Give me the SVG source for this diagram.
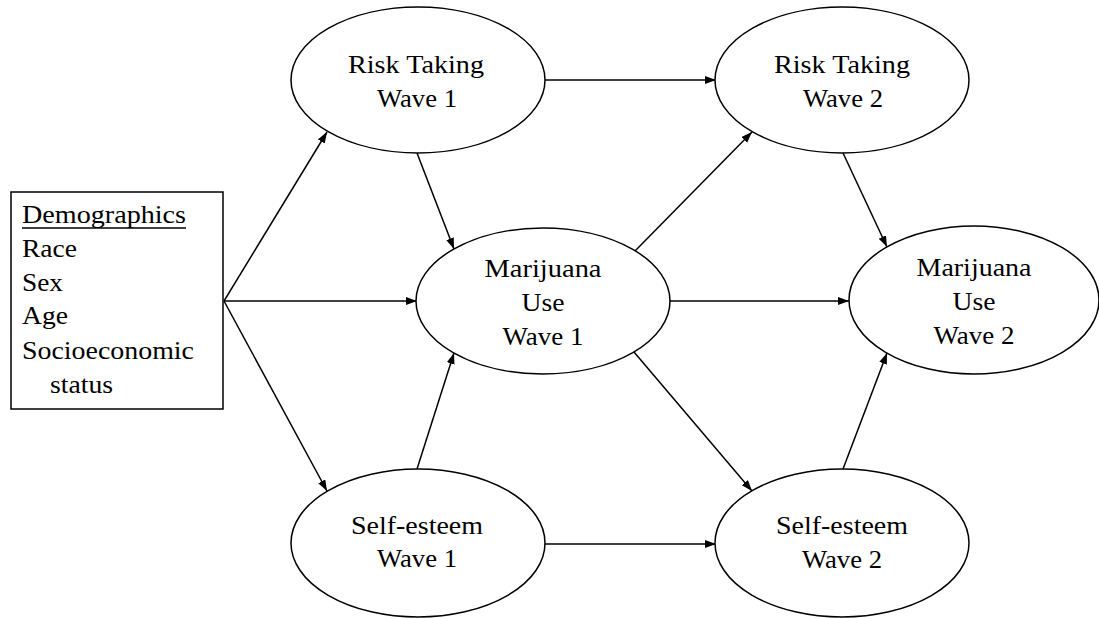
<svg xmlns="http://www.w3.org/2000/svg" width="1099" height="618" viewBox="0 0 1099 618">
<style>
.node{fill:#fff;stroke:#000;stroke-width:1.5}
.t{font-size:25px;fill:#000}
.c{text-anchor:middle}
.edge{stroke:#000;stroke-width:1.5;fill:none;marker-end:url(#ah)}
</style>
<defs>
<marker id="ah" markerUnits="userSpaceOnUse" markerWidth="12" markerHeight="9" refX="11" refY="4" orient="auto">
<path d="M0,0 L11,4 L0,8 z" fill="#000"/>
</marker>
</defs>
<rect width="1099" height="618" fill="#fff"/>
<g id="connectors">
<line class="edge" x1="224" y1="301" x2="327" y2="132"/>
<line class="edge" x1="224" y1="301" x2="417" y2="301"/>
<line class="edge" x1="224" y1="301" x2="327" y2="491"/>
<line class="edge" x1="417" y1="153" x2="454" y2="249"/>
<line class="edge" x1="417" y1="469" x2="454" y2="353"/>
<line class="edge" x1="545" y1="80" x2="716" y2="80"/>
<line class="edge" x1="545" y1="544" x2="716" y2="544"/>
<line class="edge" x1="635" y1="251" x2="752" y2="132"/>
<line class="edge" x1="670" y1="301" x2="849" y2="301"/>
<line class="edge" x1="634" y1="352" x2="752" y2="491"/>
<line class="edge" x1="843" y1="153" x2="887" y2="247"/>
<line class="edge" x1="843" y1="469" x2="887" y2="353"/>
</g>
<g font-family="Liberation Serif, Times New Roman, Times, serif">
<g id="demographics">
<rect class="node" x="11" y="192" width="212" height="217"/>
<text class="t" x="22" y="223" textLength="164" lengthAdjust="spacingAndGlyphs">Demographics</text>
<line x1="22" y1="228" x2="186" y2="228" stroke="#000" stroke-width="1.3"/>
<text class="t" x="22" y="257" textLength="55" lengthAdjust="spacingAndGlyphs">Race</text>
<text class="t" x="22" y="291" textLength="41" lengthAdjust="spacingAndGlyphs">Sex</text>
<text class="t" x="22" y="324" textLength="46" lengthAdjust="spacingAndGlyphs">Age</text>
<text class="t" x="22" y="359" textLength="172" lengthAdjust="spacingAndGlyphs">Socioeconomic</text>
<text class="t" x="50" y="393" textLength="63" lengthAdjust="spacingAndGlyphs">status</text>
</g>
<g id="risk1">
<ellipse class="node" cx="418" cy="80" rx="127" ry="73"/>
<text class="t c" x="416" y="73" textLength="136" lengthAdjust="spacingAndGlyphs">Risk Taking</text>
<text class="t c" x="417" y="107" textLength="80" lengthAdjust="spacingAndGlyphs">Wave 1</text>
</g>
<g id="risk2">
<ellipse class="node" cx="842" cy="80" rx="127" ry="73"/>
<text class="t c" x="842" y="73" textLength="136" lengthAdjust="spacingAndGlyphs">Risk Taking</text>
<text class="t c" x="843" y="107" textLength="80" lengthAdjust="spacingAndGlyphs">Wave 2</text>
</g>
<g id="mj1">
<ellipse class="node" cx="543" cy="301" rx="127" ry="73"/>
<text class="t c" x="543" y="277" textLength="117" lengthAdjust="spacingAndGlyphs">Marijuana</text>
<text class="t c" x="543" y="311" textLength="43" lengthAdjust="spacingAndGlyphs">Use</text>
<text class="t c" x="543" y="345" textLength="81" lengthAdjust="spacingAndGlyphs">Wave 1</text>
</g>
<g id="mj2">
<ellipse class="node" cx="974" cy="300" rx="125" ry="74"/>
<text class="t c" x="974" y="276" textLength="115" lengthAdjust="spacingAndGlyphs">Marijuana</text>
<text class="t c" x="974" y="310" textLength="43" lengthAdjust="spacingAndGlyphs">Use</text>
<text class="t c" x="974" y="344" textLength="81" lengthAdjust="spacingAndGlyphs">Wave 2</text>
</g>
<g id="self1">
<ellipse class="node" cx="418" cy="543" rx="127" ry="74"/>
<text class="t c" x="417" y="534" textLength="132" lengthAdjust="spacingAndGlyphs">Self-esteem</text>
<text class="t c" x="417" y="567" textLength="80" lengthAdjust="spacingAndGlyphs">Wave 1</text>
</g>
<g id="self2">
<ellipse class="node" cx="842" cy="543" rx="127" ry="74"/>
<text class="t c" x="842" y="534" textLength="132" lengthAdjust="spacingAndGlyphs">Self-esteem</text>
<text class="t c" x="842" y="568" textLength="80" lengthAdjust="spacingAndGlyphs">Wave 2</text>
</g>
</g>
</svg>
